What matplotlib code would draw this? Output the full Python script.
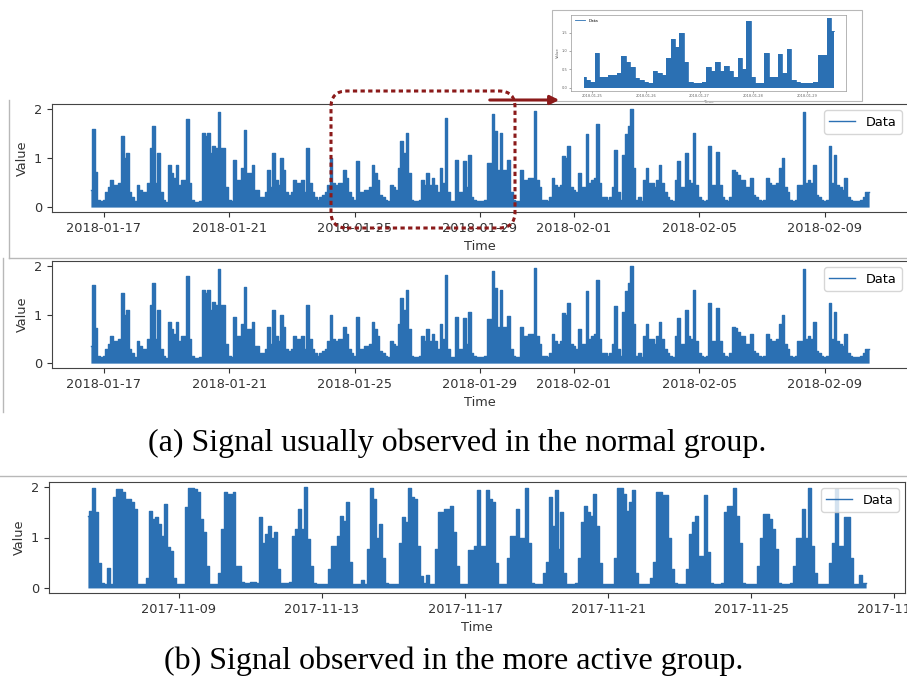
import matplotlib
matplotlib.use("Agg")
import matplotlib.pyplot as plt
import matplotlib.dates as mdates
import pandas as pd
from matplotlib.patches import FancyBboxPatch, FancyArrowPatch, Rectangle
from matplotlib.lines import Line2D

# normal group signal, 2-hour samples from 2018-01-16 14:00
normal_start = "2018-01-16 14:00"
normal_values = [
    0.35, 1.6, 0.72, 0.15, 0.12, 0.15, 0.3, 0.4, 0.55, 0.45, 0.45, 0.5,
    1.45, 1.0, 1.1, 0.3, 0.2, 0.12, 0.45, 0.35, 0.3, 0.3, 0.5, 1.2,
    1.65, 0.5, 1.1, 0.3, 0.15, 0.1, 0.85, 0.7, 0.6, 0.85, 0.45, 0.55,
    0.55, 1.8, 0.5, 0.15, 0.1, 0.1, 0.12, 1.5, 1.45, 1.5, 1.1, 1.25,
    1.2, 1.93, 1.2, 1.2, 0.4, 0.15, 0.12, 0.95, 0.55, 0.55, 0.8, 1.57,
    0.7, 0.7, 0.85, 0.35, 0.35, 0.2, 0.2, 0.3, 0.75, 0.4, 1.1, 0.55,
    0.45, 1.0, 0.75, 0.3, 0.25, 0.3, 0.55, 0.5, 0.5, 0.55, 0.3, 1.2,
    0.5, 0.3, 0.2, 0.15, 0.2, 0.25, 0.3, 0.45, 1.0, 0.5, 0.45, 0.5,
    0.5, 0.75, 0.6, 0.3, 0.2, 0.15, 0.94, 0.3, 0.3, 0.35, 0.35, 0.4,
    0.85, 0.7, 0.55, 0.25, 0.2, 0.15, 0.12, 0.45, 0.4, 0.35, 0.8, 1.34,
    1.1, 1.5, 0.7, 0.15, 0.12, 0.12, 0.15, 0.55, 0.45, 0.7, 0.45, 0.6,
    0.45, 0.3, 0.8, 0.5, 1.81, 0.3, 0.12, 0.12, 0.95, 0.3, 0.3, 0.93,
    0.4, 1.06, 0.2, 0.15, 0.12, 0.12, 0.12, 0.15, 0.9, 0.9, 1.89, 1.55,
    0.75, 1.51, 0.75, 0.75, 0.96, 0.3, 0.15, 0.12, 0.12, 0.75, 0.55, 0.55,
    0.6, 0.6, 1.95, 0.55, 0.4, 0.15, 0.15, 0.12, 0.2, 0.6, 0.45, 0.4,
    0.45, 1.04, 1.0, 1.24, 0.4, 0.35, 0.3, 0.7, 0.4, 0.4, 1.48, 0.5,
    0.55, 0.6, 1.7, 0.5, 0.2, 0.2, 0.15, 0.2, 0.4, 1.17, 0.3, 0.15,
    1.06, 1.48, 1.65, 2.0, 0.8, 0.15, 0.2, 0.12, 0.55, 0.8, 0.5, 0.5,
    0.4, 0.55, 0.85, 0.5, 0.3, 0.2, 0.15, 0.12, 0.55, 0.93, 0.4, 0.4,
    1.1, 0.55, 0.5, 1.51, 0.45, 0.2, 0.15, 0.12, 0.15, 1.24, 0.45, 0.45,
    1.13, 0.45, 0.2, 0.15, 0.12, 0.2, 0.75, 0.72, 0.65, 0.55, 0.55, 0.4,
    0.4, 0.6, 0.25, 0.2, 0.15, 0.12, 0.15, 0.6, 0.5, 0.45, 0.45, 0.5,
    0.8, 0.99, 0.4, 0.3, 0.15, 0.12, 0.15, 0.45, 0.45, 1.93, 0.5, 0.55,
    0.5, 0.85, 0.25, 0.2, 0.15, 0.12, 0.15, 1.24, 0.5, 1.06, 0.45, 0.4,
    0.35, 0.6, 0.2, 0.15, 0.12, 0.12, 0.12, 0.15, 0.2, 0.3, 0.3,
]

# more active group signal, 2-hour samples from 2017-11-06 11:00
active_start = "2017-11-06 11:00"
active_values = [
    1.43, 1.52, 1.99, 1.5, 0.5, 0.1, 0.08, 0.4, 0.08, 1.8, 1.97, 1.97,
    1.9, 1.77, 1.77, 1.7, 1.56, 0.08, 0.08, 0.08, 0.2, 1.52, 1.36, 1.4,
    1.26, 1.03, 1.66, 0.81, 0.74, 0.2, 0.08, 0.08, 0.08, 1.6, 1.99, 1.99,
    1.96, 1.9, 1.36, 1.1, 0.44, 0.08, 0.08, 0.08, 0.3, 1.17, 1.9, 1.87,
    1.87, 1.9, 0.44, 0.44, 0.11, 0.1, 0.1, 0.12, 0.12, 0.1, 1.4, 0.9,
    1.07, 1.23, 1.0, 1.1, 0.37, 0.1, 0.1, 0.1, 0.12, 1.03, 1.17, 1.56,
    1.17, 2.0, 0.97, 0.44, 0.1, 0.08, 0.08, 0.08, 0.08, 0.37, 0.84, 0.84,
    1.03, 1.43, 1.33, 1.7, 0.51, 0.08, 0.08, 0.08, 0.15, 0.08, 0.77, 1.99,
    1.77, 1.0, 1.26, 0.6, 0.1, 0.08, 0.08, 0.08, 0.08, 0.9, 1.4, 1.3,
    1.99, 1.8, 1.77, 0.84, 0.24, 0.1, 0.25, 0.08, 0.08, 0.77, 1.5, 1.5,
    1.56, 1.56, 1.63, 1.1, 0.44, 0.08, 0.08, 0.08, 0.75, 0.75, 0.84, 1.94,
    0.84, 0.84, 1.94, 1.77, 1.7, 0.5, 0.08, 0.08, 0.08, 0.6, 1.03, 1.03,
    1.56, 1.0, 1.0, 1.99, 0.9, 0.1, 0.08, 0.08, 0.08, 0.3, 0.51, 1.8,
    1.23, 1.94, 0.77, 1.5, 0.3, 0.08, 0.08, 0.08, 0.1, 0.6, 1.3, 1.63,
    1.5, 1.43, 1.87, 1.23, 0.5, 0.08, 0.08, 0.08, 0.08, 0.6, 1.99, 1.99,
    1.87, 1.52, 1.7, 1.94, 0.3, 0.08, 0.08, 0.08, 0.08, 0.2, 0.51, 1.9,
    1.9, 1.84, 1.84, 1.0, 0.37, 0.1, 0.08, 0.08, 0.08, 0.37, 1.07, 1.3,
    1.43, 0.64, 0.64, 1.84, 0.71, 0.1, 0.08, 0.08, 0.08, 0.1, 1.5, 1.63,
    1.63, 1.99, 1.43, 0.9, 0.1, 0.08, 0.08, 0.08, 0.08, 0.44, 1.0, 1.46,
    1.46, 1.36, 1.17, 0.77, 0.1, 0.08, 0.08, 0.08, 0.1, 0.44, 1.0, 1.0,
    1.56, 1.0, 1.99, 0.84, 0.3, 0.08, 0.08, 0.08, 0.08, 0.5, 0.9, 1.97,
    0.84, 0.84, 1.4, 1.4, 0.6, 0.08, 0.08, 0.25, 0.1, 0.1,
]

zoom_from = "2018-01-24 20:00"
zoom_to = "2018-01-29 12:00"

BLUE = "#2b70b3"
RED = "#8b1a1a"
FRAME = "#b8b8b8"
W, H = 907, 679

normal = pd.Series(normal_values,
                   index=pd.date_range(normal_start, periods=len(normal_values), freq="2h"))
active = pd.Series(active_values,
                   index=pd.date_range(active_start, periods=len(active_values), freq="2h"))


def px_box(left, top, right, bottom):
    return [left / W, 1 - bottom / H, (right - left) / W, (bottom - top) / H]


def draw_signal(ax, s, lw=1.0):
    ax.fill_between(s.index, 0, s.values, step="mid", color=BLUE, lw=0)
    ax.plot(s.index, s.values, drawstyle="steps-mid", color=BLUE, lw=lw, label="Data")


def style_panel(ax):
    ax.set_yticks([0, 1, 2])
    ax.xaxis.set_major_locator(mdates.DayLocator(bymonthday=[1, 5, 9, 13, 17, 21, 25, 29]))
    ax.xaxis.set_major_formatter(mdates.DateFormatter("%Y-%m-%d"))
    ax.tick_params(labelsize=9.3, colors="#333333", labelcolor="#333333")
    ax.set_xlabel("Time", fontsize=9.3, color="#333333")
    ax.set_ylabel("Value", fontsize=9.3, color="#333333")
    for sp in ax.spines.values():
        sp.set_color("#444444")
    ax.legend(loc="upper right", fontsize=9.3)


fig = plt.figure(figsize=(W / 100, H / 100), dpi=100)

ax1 = fig.add_axes(px_box(52, 104, 908, 212))
draw_signal(ax1, normal)
style_panel(ax1)

ax2 = fig.add_axes(px_box(52, 261, 908, 368))
draw_signal(ax2, normal)
style_panel(ax2)

ax3 = fig.add_axes(px_box(49, 482, 905, 593))
draw_signal(ax3, active)
style_panel(ax3)

# zoomed inset of the marked region
axi = fig.add_axes(px_box(571, 15, 846, 91))
part = normal[zoom_from:zoom_to]
draw_signal(axi, part, lw=0.6)
axi.set_yticks([0.0, 0.5, 1.0, 1.5])
axi.yaxis.set_major_formatter(matplotlib.ticker.FormatStrFormatter("%.1f"))
axi.xaxis.set_major_locator(mdates.DayLocator())
axi.xaxis.set_major_formatter(mdates.DateFormatter("%Y-%m-%d"))
axi.tick_params(labelsize=2.6, length=1.5, width=0.4, pad=1, colors="#666666")
axi.set_ylabel("Value", fontsize=2.8, labelpad=1, color="#666666")
axi.set_xlabel("Time", fontsize=2.8, labelpad=1, color="#666666")
for sp in axi.spines.values():
    sp.set_linewidth(0.5)
    sp.set_color("#999999")
axi.legend(loc="upper left", fontsize=3, frameon=False, handlelength=2.5)

inch = fig.dpi_scale_trans


def px_line(x0, y0, x1, y1, **kw):
    fig.add_artist(Line2D([x0 / 100, x1 / 100], [(H - y0) / 100, (H - y1) / 100],
                          transform=inch, color=FRAME, lw=1.0, **kw))


# borders of the pasted screenshots
px_line(9, 100, 9, 258)
px_line(9, 258, 907, 258)
px_line(3, 258, 3, 412)
px_line(0, 476, 907, 476)
fig.add_artist(Rectangle((552 / 100, (H - 101) / 100), 310 / 100, 91 / 100,
                         transform=inch, fill=False, ec=FRAME, lw=0.8))

# dotted region marker and arrow to the inset
fig.add_artist(FancyBboxPatch((331 / 100, (H - 228) / 100), 184 / 100, 137 / 100,
                              boxstyle="round,pad=0,rounding_size=0.16",
                              transform=inch, fill=False, ec=RED, lw=2.2,
                              ls=(0, (1.4, 1.1)), zorder=10))
fig.add_artist(FancyArrowPatch((487 / 100, (H - 100) / 100), (562 / 100, (H - 100) / 100),
                               transform=inch, arrowstyle="-|>", mutation_scale=13,
                               color=RED, lw=2.2, zorder=10))

fig.text(457 / W, 1 - 443 / H, "(a) Signal usually observed in the normal group.",
         ha="center", va="center", fontsize=23, family="Liberation Serif")
fig.text(454 / W, 1 - 661 / H, "(b) Signal observed in the more active group.",
         ha="center", va="center", fontsize=23, family="Liberation Serif")

fig.savefig("out.png", dpi=100)
